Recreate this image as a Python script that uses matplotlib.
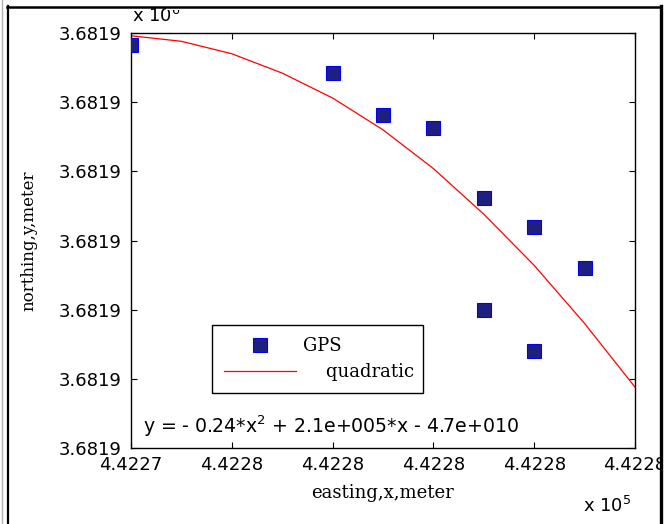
# GPS points with a quadratic fit, MATLAB-style figure
import matplotlib
matplotlib.use('Agg')
import matplotlib.pyplot as plt
from matplotlib.lines import Line2D
from matplotlib.patches import Rectangle

# GPS measurements (easting, northing) in metres
gps_x = [442274.50, 442275.50, 442275.75, 442276.00, 442276.25, 442276.50, 442276.75, 442276.25, 442276.50]
gps_y = [3681902.91, 3681902.71, 3681902.41, 3681902.31, 3681901.81, 3681901.60, 3681901.30, 3681901.00, 3681900.70]

# quadratic fit curve
fit_x = [442274.50, 442274.75, 442275.00, 442275.25, 442275.50, 442275.75,
         442276.00, 442276.25, 442276.50, 442276.75, 442277.00]
fit_y = [3681902.98, 3681902.94, 3681902.85, 3681902.71, 3681902.53, 3681902.30,
         3681902.02, 3681901.69, 3681901.32, 3681900.90, 3681900.44]

x_ticks = [442274.5, 442275.0, 442275.5, 442276.0, 442276.5, 442277.0]
x_tick_labels = ['4.4227', '4.4228', '4.4228', '4.4228', '4.4228', '4.4228']
y_ticks = [3681900.0, 3681900.5, 3681901.0, 3681901.5, 3681902.0, 3681902.5, 3681903.0]
y_tick_labels = ['3.6819'] * 7

W, H = 664, 524
fig = plt.figure(figsize=(W / 100, H / 100), dpi=100)
ax = fig.add_axes([131 / W, 1 - 448 / H, 504 / W, 415 / H])

ax.plot(gps_x, gps_y, 's', color='#1f1f80', markeredgecolor='#0000ff', markeredgewidth=0.8,
        markersize=10, label='GPS', zorder=3)
ax.plot(fit_x, fit_y, '-', color='#ff0000', lw=0.9, label='    quadratic')

ax.set_xlim(x_ticks[0], x_ticks[-1])
ax.set_ylim(y_ticks[0], y_ticks[-1])
ax.set_xticks(x_ticks)
ax.set_xticklabels(x_tick_labels)
ax.set_yticks(y_ticks)
ax.set_yticklabels(y_tick_labels)
ax.tick_params(direction='in', length=4, width=0.8, top=True, right=True,
               labelsize=13)
ax.tick_params(axis='x', pad=6)
ax.tick_params(axis='y', pad=7)
for lab in ax.get_xticklabels() + ax.get_yticklabels():
    lab.set_family('DejaVu Sans')
for s in ax.spines.values():
    s.set_linewidth(1.0)

ax.set_xlabel('easting,x,meter', family='DejaVu Serif', fontsize=13, labelpad=7)
ax.set_ylabel('northing,y,meter', family='DejaVu Serif', fontsize=12, labelpad=15)

ax.text(0.024, 0.036, r'y = - 0.24*x$^2$ + 2.1e+005*x - 4.7e+010', transform=ax.transAxes,
        fontsize=13.6, family='DejaVu Sans', va='baseline', ha='left')

leg = ax.legend(loc='lower left', bbox_to_anchor=(0.161, 0.1325, 0.419, 0.161), mode='expand',
                borderaxespad=0, fancybox=False, framealpha=1, edgecolor='black',
                prop={'family': 'DejaVu Serif', 'size': 13}, handlelength=4.0,
                handletextpad=0.4, labelspacing=0.45, borderpad=0.65)
leg.get_frame().set_linewidth(1.0)

# exponent labels as MATLAB shows them (the top one is cut by the window frame)
fig.text(132 / W, 1 - 22 / H, r'x 10$^6$', fontsize=13, family='DejaVu Sans', va='baseline')
fig.text(583 / W, 1 - 512 / H, r'x 10$^5$', fontsize=13, family='DejaVu Sans', va='baseline')
fig.add_artist(Rectangle((166 / W, 1 - 9.5 / H), 24 / W, 9.5 / H, transform=fig.transFigure,
                         facecolor='white', edgecolor='none', zorder=10))

# outer window frame
fig.add_artist(Rectangle((661 / W, 0), 3 / W, 1, transform=fig.transFigure,
                         facecolor='white', edgecolor='none', zorder=10))
fig.add_artist(Line2D([7 / W, 661 / W], [1 - 6.5 / H, 1 - 6.5 / H], transform=fig.transFigure,
                      color='black', lw=1.8, zorder=11))
fig.add_artist(Line2D([8 / W, 8 / W], [0, 1 - 6 / H], transform=fig.transFigure,
                      color='black', lw=1.6, zorder=11))
fig.add_artist(Line2D([660.5 / W, 660.5 / W], [0, 1 - 6 / H], transform=fig.transFigure,
                      color='black', lw=2.4, zorder=11))
fig.add_artist(Line2D([2 / W, 2 / W], [0, 1], transform=fig.transFigure,
                      color='#b0b0b0', lw=1.0, zorder=11))

fig.savefig('out.png', dpi=100)
